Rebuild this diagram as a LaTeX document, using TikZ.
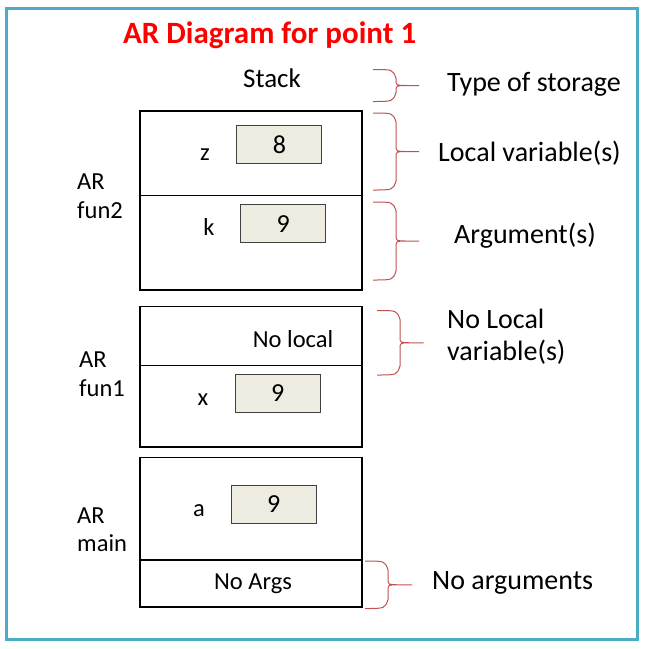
\documentclass[tikz,border=0pt]{standalone}
\usepackage{fontspec}
\setmainfont{Carlito}
\usepackage{xcolor}
\usepackage{tikz}
\usetikzlibrary{positioning}
\definecolor{framecol}{RGB}{75,172,198}
\definecolor{bracecol}{RGB}{192,80,77}
\definecolor{cellfill}{RGB}{238,236,225}
\definecolor{titlered}{RGB}{255,0,0}
\tikzset{
	cell/.style={draw=black,line width=1.1pt,minimum width=222pt,inner sep=0pt,outer sep=0pt,anchor=north west},
	valbox/.style={draw=black!75,fill=cellfill,line width=1pt,minimum width=85pt,minimum height=38pt,inner sep=0pt,font=\fontsize{26}{31}\selectfont},
	txt/.style={inner sep=0pt,font=\fontsize{24.5}{29}\selectfont},
	note/.style={inner sep=0pt,anchor=base west,font=\fontsize{28}{32}\selectfont},
	bracestyle/.style={draw=bracecol,line width=1pt}
}
% right brace: end x, top y, bottom y, tip length
\def\notebrace#1#2#3#4{
	\draw[bracestyle] (#1,#2) .. controls ({#1+20},#2) .. ({#1+23},{#2+9}) -- ({#1+23},{(#2+#3)/2-6}) .. controls ({#1+23},{(#2+#3)/2}) .. ({#1+34},{(#2+#3)/2}) -- ({#1+#4},{(#2+#3)/2})
		(#1,#3) .. controls ({#1+20},#3) .. ({#1+23},{#3-9}) -- ({#1+23},{(#2+#3)/2+6}) .. controls ({#1+23},{(#2+#3)/2}) .. ({#1+34},{(#2+#3)/2});
	}
\begin{document}
\begin{tikzpicture}[x=1pt,y=-1pt]
	\useasboundingbox (0,0) rectangle (647,649);
	\draw[framecol,line width=2.6pt] (6.5,8.3) rectangle (637.7,639.2);
	\node[inner sep=0pt,anchor=base west,text=titlered,font=\fontsize{31}{36}\selectfont\bfseries] (title) at (123,43) {AR Diagram for point 1};
	\node[txt,anchor=base west,font=\fontsize{27}{32}\selectfont] (stack) at (243,87) {Stack};
	% fun2
	\node[cell,minimum height=84.5pt] (f2loc) at (140,111) {};
	\node[cell,minimum height=94.5pt] (f2arg) at (f2loc.south west) {};
	\node[txt,anchor=base] (z) at (205,160.5) {z};
	\node[valbox] (zval) at (279.4,144.7) {8};
	\node[txt,anchor=base] (k) at (209,235) {k};
	\node[valbox] (kval) at (283.2,223.7) {9};
	\node[txt,anchor=base west] (ar2) at (77,189) {AR};
	\node[txt,anchor=base west] (fun2) at (77,218) {fun2};
	% fun1
	\node[cell,minimum height=58.8pt] (f1loc) at (140,306.5) {};
	\node[cell,minimum height=81.7pt] (f1arg) at (f1loc.south west) {};
	\node[txt,anchor=base west] (noloc) at (252.7,347.3) {No local};
	\node[txt,anchor=base] (x) at (203,405) {x};
	\node[valbox] (xval) at (277.7,393.3) {9};
	\node[txt,anchor=base west] (ar1) at (79,367) {AR};
	\node[txt,anchor=base west] (fun1) at (79,396) {fun1};
	% main
	\node[cell,minimum height=102.7pt] (mloc) at (140,457.3) {};
	\node[cell,minimum height=47pt] (marg) at (mloc.south west) {};
	\node[txt,anchor=base] (a) at (199,516) {a};
	\node[valbox] (aval) at (273.7,504.2) {9};
	\node[txt,anchor=base] (noargs) at (253,589) {No Args};
	\node[txt,anchor=base west] (arm) at (77,523) {AR};
	\node[txt,anchor=base west] (mainl) at (77,551) {main};
	% braces and notes
	\notebrace{373}{69.5}{101.5}{46}
	\notebrace{373}{113}{190}{46}
	\notebrace{373}{202}{280}{46}
	\notebrace{377}{310.5}{375}{46.5}
	\notebrace{365}{561}{608.5}{47}
	\node[note] (storage) at (447,91) {Type of storage};
	\node[note] (locvar) at (438,161) {Local variable(s)};
	\node[note] (args) at (454,243) {Argument(s)};
	\node[note] (nolocA) at (447,328) {No Local};
	\node[note] (nolocB) at (447,360) {variable(s)};
	\node[note] (noarg) at (432,589) {No arguments};
\end{tikzpicture}
\end{document}
